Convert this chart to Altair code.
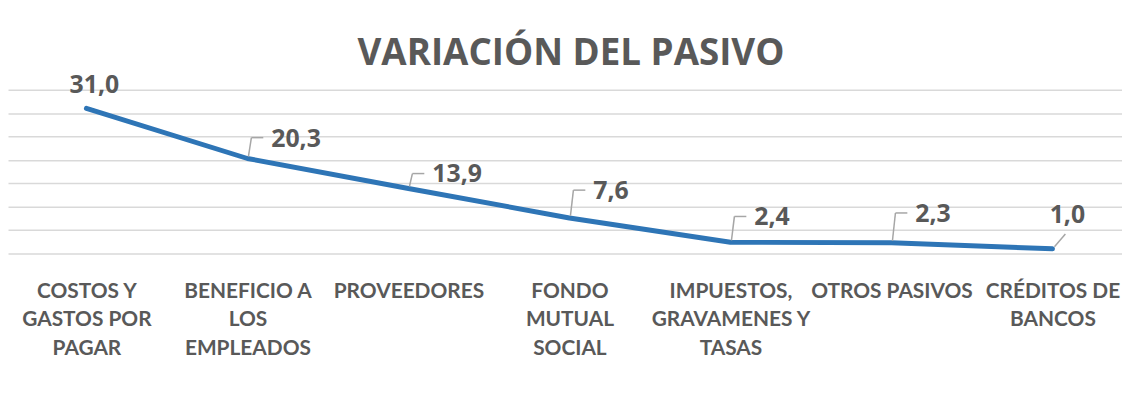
import altair as alt
import pandas as pd

categorias = [
    "COSTOS Y|GASTOS POR|PAGAR",
    "BENEFICIO A|LOS|EMPLEADOS",
    "PROVEEDORES",
    "FONDO|MUTUAL|SOCIAL",
    "IMPUESTOS,|GRAVAMENES Y|TASAS",
    "OTROS PASIVOS",
    "CRÉDITOS DE|BANCOS",
]
valores = [31.0, 20.3, 13.9, 7.6, 2.4, 2.3, 1.0]
titulo = "VARIACIÓN DEL PASIVO"

df = pd.DataFrame({"cat": categorias, "valor": valores})

GREY = "#595959"
BLUE = "#2E75B6"
LEAD = "#A6A6A6"
FONT = "Open Sans"
AXFONT = "Lato"

x = alt.X(
    "cat:N",
    sort=categorias,
    scale=alt.Scale(type="point", padding=0.4594, align=0.53),
    axis=alt.Axis(
        title=None,
        domain=False,
        ticks=False,
        grid=False,
        labelAngle=0,
        labelExpr="split(datum.label, '|')",
        labelFont=AXFONT,
        labelFontSize=21,
        labelFontWeight="bold",
        labelColor=GREY,
        labelPadding=27,
        labelLineHeight=29,
        labelAlign="center",
        labelBaseline="top",
        labelOverlap=False,
        labelBound=False,
        labelFlush=False,
    ),
)
y = alt.Y(
    "valor:Q",
    scale=alt.Scale(domain=[0, 35], nice=False),
    axis=alt.Axis(
        title=None,
        values=[0, 5, 10, 15, 20, 25, 30, 35],
        labels=False,
        ticks=False,
        domain=False,
        grid=True,
        gridColor="#D9D9D9",
        gridWidth=1.5,
    ),
)

base = alt.Chart(df).transform_calculate(
    lbl="replace(format(datum.valor, '.1f'), '.', ',')"
)

txt_style = dict(font=FONT, fontSize=25, fontWeight="bold", color=GREY, baseline="middle")


def one(cat):
    return base.transform_filter(alt.FieldEqualPredicate(field="cat", equal=cat))


def callout(cat, dy):
    slant = one(cat).mark_rule(
        color=LEAD, strokeWidth=1.5,
        xOffset=1, x2Offset=4, yOffset=-2, y2Offset=dy,
    ).encode(x=x, y=y, x2="cat", y2="valor")
    horiz = one(cat).mark_rule(
        color=LEAD, strokeWidth=1.5,
        xOffset=4, x2Offset=16, yOffset=dy, y2Offset=dy,
    ).encode(x=x, y=y, x2="cat", y2="valor")
    label = one(cat).mark_text(
        align="left", dx=24, dy=dy + 1, **txt_style
    ).encode(x=x, y=y, text="lbl:N")
    return [slant, horiz, label]


line = base.mark_line(
    color=BLUE, strokeWidth=5, strokeCap="round", strokeJoin="round"
).encode(x=x, y=y)

lbl_first = one(categorias[0]).mark_text(
    align="center", dx=8, dy=-24, **txt_style
).encode(x=x, y=y, text="lbl:N")

lead_last = one(categorias[6]).mark_rule(
    color=LEAD, strokeWidth=1.5,
    xOffset=2, x2Offset=13, yOffset=-2, y2Offset=-15,
).encode(x=x, y=y, x2="cat", y2="valor")

lbl_last = one(categorias[6]).mark_text(
    align="center", dx=15, dy=-34, **txt_style
).encode(x=x, y=y, text="lbl:N")

layers = []
for c, d in zip(categorias[1:6], [-21, -15, -28, -26, -30]):
    layers += callout(c, d)

title_mark = alt.Chart(pd.DataFrame({"t": [titulo]})).mark_text(
    font=FONT, fontSize=37, fontWeight="bold", color=GREY,
    align="center", baseline="alphabetic",
).encode(text="t:N", x=alt.value(567), y=alt.value(-25))

chart = alt.layer(
    lead_last, line, *layers, lbl_first, lbl_last, title_mark
).properties(
    width=1122,
    height=165,
    autosize=alt.AutoSizeParams(type="none"),
    padding={"left": 0, "top": 81, "right": 0, "bottom": 110},
    background="white",
).configure_view(stroke=None)

chart.save("out.html", embed_options={"renderer": "svg", "actions": False})
